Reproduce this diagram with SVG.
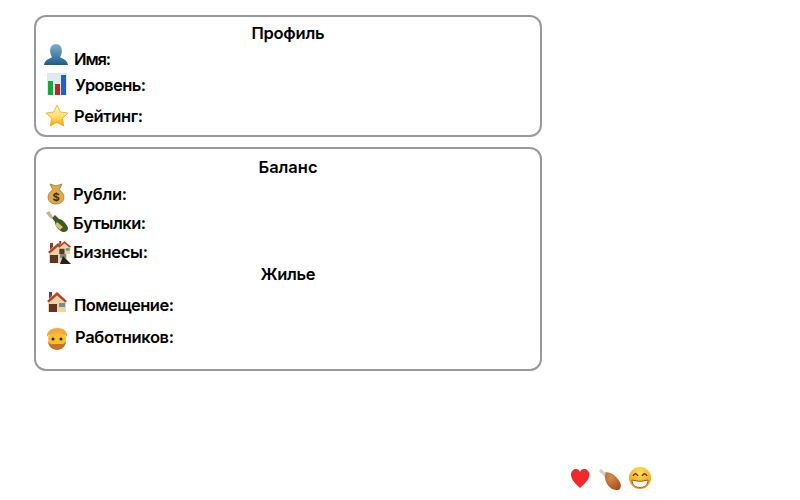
<svg xmlns="http://www.w3.org/2000/svg" width="800" height="500" viewBox="0 0 800 500">
<style>
text{font-family:"Inter","Liberation Sans",sans-serif;font-weight:600;font-size:16.5px;fill:#000}
.box{fill:#fff;stroke:#999;stroke-width:2}
.m{text-anchor:middle}
</style>
<defs>
<linearGradient id="star" x1="0" y1="0" x2="0" y2="1"><stop offset="0" stop-color="#fffbe0"/><stop offset=".6" stop-color="#ffd860"/><stop offset="1" stop-color="#f9a000"/></linearGradient>
<linearGradient id="person" x1="0" y1="0" x2="0" y2="1"><stop offset="0" stop-color="#7fb0cc"/><stop offset="1" stop-color="#1f5c88"/></linearGradient>
<radialGradient id="smile" cx=".5" cy=".25" r=".85"><stop offset="0" stop-color="#ffe050"/><stop offset="1" stop-color="#f08a10"/></radialGradient>
<radialGradient id="leg-fill" cx=".4" cy=".3" r=".8"><stop offset="0" stop-color="#d98a48"/><stop offset="1" stop-color="#a04c1c"/></radialGradient>
<g id="house"><path d="M1 9 10 2 19 9V20H1Z" fill="#f0d3a0"/><path d="M0 9 10 0 20 9 18 10.500 10 3.500 2 10.500Z" fill="#b5452f"/><path d="M2 0H5V4L2 7Z" fill="#8a3a28"/><rect x="2" y="12" width="8" height="8" fill="#5e3524"/><rect x="12" y="11" width="6" height="4" fill="#6f8f98"/></g>
</defs>
<rect width="800" height="500" fill="#fff"/>
<g id="profile">
<rect class="box" x="35" y="16" width="506" height="120" rx="11"/>
<text class="m" x="288" y="39" textLength="73">Профиль</text>
<g id="row-name"><path d="M44 65C45 59 50 59 52 57 49 53 49 44 56 44 63 44 63 53 60 57 62 59 67 59 68 65Z" fill="url(#person)"/><text x="74" y="65" textLength="37">Имя:</text></g>
<g id="row-level"><rect x="47" y="73" width="20" height="22" fill="#dfe9f0"/><rect x="48" y="81" width="5" height="14" fill="#19a63a"/><rect x="55" y="84" width="5" height="11" fill="#cc1f1f"/><rect x="61" y="75" width="5" height="20" fill="#1f62c4"/><text x="75" y="91" textLength="71">Уровень:</text></g>
<g id="row-rating"><path d="M57 105 60.300 112 68 113 62.400 118.300 63.800 126 57 122.200 50.200 126 51.600 118.300 46 113 53.700 112Z" fill="url(#star)" stroke="#f0a818" stroke-width=".8"/><text x="74" y="122" textLength="69">Рейтинг:</text></g>
</g>
<g id="balance">
<rect class="box" x="35" y="148" width="506" height="222" rx="11"/>
<text class="m" x="288" y="173" textLength="59">Баланс</text>
<g id="row-rub"><path d="M50 184 56 186 62 184 59 190C66 193 66 204 56 204 46 204 46 193 53 190Z" fill="#e0aa45" stroke="#9c6a24" stroke-width=".7"/><text x="56" y="201" class="m" style="font-size:11px;fill:#3a2a10;font-weight:700">$</text><text x="73" y="200" textLength="54">Рубли:</text></g>
<g id="row-bottles"><path d="M52 218 55 215 59 219C62 219 67 224 68 228 68 231 66 232 63 232 59 231 55 226 55 222Z" fill="#3e5a1e"/><path d="M57 222 63 227 60 230 55 225Z" fill="#d8c070"/><path d="M46 213 49 211 53 217 51 219Z" fill="#c9b48a"/><text x="73" y="229" textLength="73">Бутылки:</text></g>
<g id="row-biz"><use href="#house" x="48" y="243"/><use href="#house" transform="translate(58 241) scale(.65)"/><path d="M60 264 63 256 71 264Z" fill="#222"/><text x="73" y="258" textLength="75">Бизнесы:</text></g>
<text class="m" x="288" y="280" textLength="55">Жилье</text>
<g id="row-room"><use href="#house" x="47" y="292"/><text x="74" y="311" textLength="100">Помещение:</text></g>
<g id="row-workers"><circle cx="57" cy="339" r="9" fill="#fbc02d"/><path d="M47 337C45 326 69 324 67 337 64 332 50 332 47 337Z" fill="#f4a83c"/><path d="M48 341C50 345 52 344 57 344 62 344 64 345 66 341 66 346 62 350 57 350 52 350 48 346 48 341Z" fill="#c9702a"/><circle cx="53" cy="339" r="1.500" fill="#222"/><circle cx="61" cy="339" r="1.500" fill="#222"/><text x="75" y="343" textLength="99">Работников:</text></g>
</g>
<g id="status">
<path id="heart" d="M580 488C576 484 571 480 571 474.500 571 471 574 469 576 469 578 469 579.500 470 580 472 580.500 470 582 469 584 469 586.500 469 589.500 471 589.500 474.500 589.500 480 584 484 580 488Z" fill="#ee2a2a"/>
<g id="leg"><path d="M604 473C607 471 613 473 617 478 622 483 622 489 618 490 612 491 606 485 605 478Z" fill="url(#leg-fill)"/><path d="M605 475 600 470" stroke="#d8ccb8" stroke-width="3"/></g>
<g id="grin"><circle cx="640" cy="478" r="11" fill="url(#smile)"/><path d="M632 480Q640 483 648 480C648 485 644 487.500 640 487.500 636 487.500 632 485 632 480Z" fill="#fff" stroke="#7a4a10" stroke-width=".8"/><path d="M633 476Q635.500 471.500 638 476M642 476Q644.500 471.500 647 476" fill="none" stroke="#5a3a10" stroke-width="1.400"/></g>
</g>
</svg>
